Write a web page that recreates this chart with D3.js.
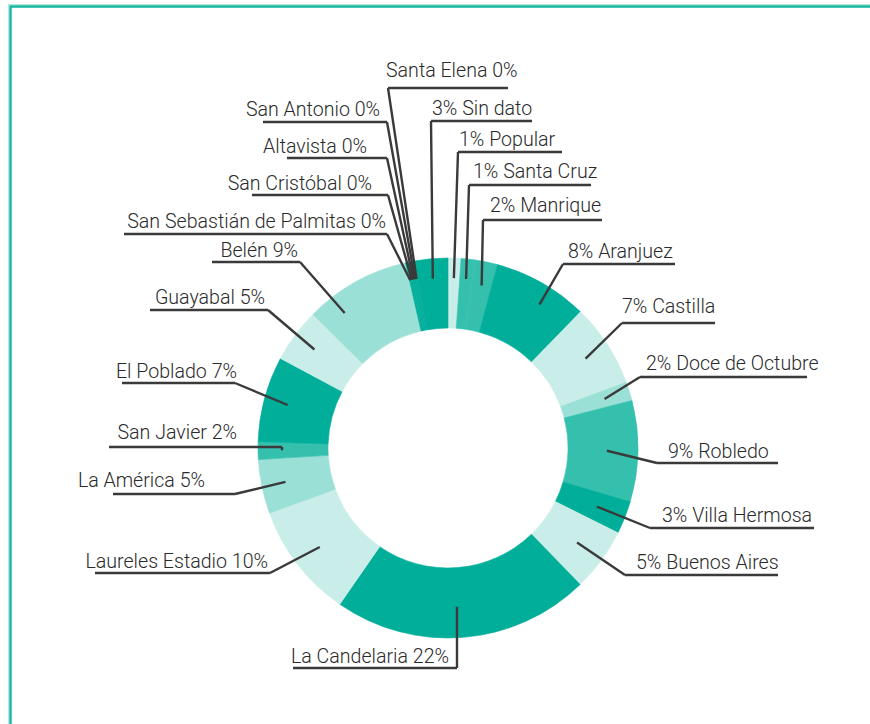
<!DOCTYPE html>
<html><head><meta charset="utf-8">
<script src="https://cdn.jsdelivr.net/npm/d3@7"></script>
<style>html,body{margin:0;padding:0;background:#fff;}svg{display:block;}</style>
</head><body>
<script>
// ---- data ----
const categories = ["Popular","Santa Cruz","Manrique","Aranjuez","Castilla","Doce de Octubre","Robledo","Villa Hermosa","Buenos Aires","La Candelaria","Laureles Estadio","La América","San Javier","El Poblado","Guayabal","Belén","San Sebastián de Palmitas","San Cristóbal","Altavista","San Antonio","Santa Elena","Sin dato"];
const values = [1.1,1.2,1.9,8.1,7.1,1.6,8.6,2.8,5.4,21.9,9.8,4.6,1.5,7.3,4.6,9.0,0.15,0.15,0.15,0.15,0.15,2.85];
// shade index per category (0 light,1 mid-light,2 medium,3 dark)
const shades = [0,2,2,3,0,1,2,3,0,3,0,1,2,3,0,1,3,3,3,3,3,3];

// ---- styles / layout ----
const W = 870, H = 724;
const palette = ["#c9ede8","#9be0d6","#35c0ae","#00ae9a"];
const cx = 448, cy = 448, rOuter = 190, rInner = 120;
// label layout: text x, baseline y, anchor, underline y, underline x-range, corner x (leader bend), leader radius, angle tweak
const labelLayout = {
  "Santa Elena":{tx:386,ty:77,a:"start",uy:88,x1:388,x2:508,c:388,nameFirst:true,r:172},
  "San Antonio":{tx:380,ty:116,a:"end",uy:122,x1:263,x2:387,c:387,nameFirst:true,r:172},
  "Altavista":{tx:367,ty:153,a:"end",uy:158,x1:287,x2:387,c:387,nameFirst:true,r:172},
  "San Cristóbal":{tx:372,ty:190,a:"end",uy:195,x1:252,x2:388,c:388,nameFirst:true,r:172},
  "San Sebastián de Palmitas":{tx:386,ty:228,a:"end",uy:234,x1:124,x2:387,c:387,nameFirst:true,r:172},
  "Belén":{tx:298,ty:257,a:"end",uy:262,x1:212,x2:300,c:300,nameFirst:true,r:170,da:-0.145},
  "Guayabal":{tx:265,ty:304,a:"end",uy:310,x1:150,x2:268,c:268,nameFirst:true,r:166},
  "El Poblado":{tx:237,ty:378,a:"end",uy:383,x1:122,x2:235,c:235,nameFirst:true,r:166},
  "San Javier":{tx:237,ty:439,a:"end",uy:447,x1:109,x2:282,c:282,nameFirst:true,r:166},
  "La América":{tx:205,ty:487,a:"end",uy:494,x1:113,x2:235,c:235,nameFirst:true,r:166},
  "Laureles Estadio":{tx:268,ty:568,a:"end",uy:573,x1:95,x2:270,c:270,nameFirst:true,r:162},
  "La Candelaria":{tx:449,ty:663,a:"end",uy:668,x1:293,x2:457,c:457,nameFirst:true,r:159,da:0.025},
  "Buenos Aires":{tx:636,ty:569,a:"start",uy:575,x1:625,x2:778,c:625,nameFirst:false,r:160},
  "Villa Hermosa":{tx:662,ty:522,a:"start",uy:528,x1:650,x2:814,c:650,nameFirst:false,r:160},
  "Robledo":{tx:668,ty:458,a:"start",uy:463,x1:657,x2:778,c:657,nameFirst:false,r:159},
  "Doce de Octubre":{tx:646,ty:370,a:"start",uy:377,x1:640,x2:807,c:640,nameFirst:false,r:164},
  "Castilla":{tx:622,ty:313,a:"start",uy:323,x1:622,x2:715,c:622,nameFirst:false,r:164},
  "Aranjuez":{tx:568,ty:258,a:"start",uy:264,x1:563,x2:675,c:563,nameFirst:false,r:170,da:0.05},
  "Manrique":{tx:490,ty:212,a:"start",uy:220,x1:483,x2:602,c:483,nameFirst:false,r:166},
  "Santa Cruz":{tx:473,ty:178,a:"start",uy:185,x1:469,x2:591,c:469,nameFirst:false,r:170},
  "Popular":{tx:459,ty:146,a:"start",uy:152,x1:458,x2:562,c:458,nameFirst:false,r:170},
  "Sin dato":{tx:432,ty:115,a:"start",uy:121,x1:431,x2:532,c:431,nameFirst:false,r:170}
};

const data = categories.map((c,i)=>({name:c, value:values[i], shade:shades[i]}));

const svg = d3.select("body").append("svg").attr("width",W).attr("height",H);

// frame
svg.append("path").attr("d",`M8.5,${H} V4.5 H${W}`).attr("fill","none").attr("stroke","#b3e7de").attr("stroke-width",1.2);
svg.append("path").attr("d",`M10.5,${H} V6.5 H${W}`).attr("fill","none").attr("stroke","#14b7a1").attr("stroke-width",2.4);

const pie = d3.pie().value(d=>d.value).sort(null).startAngle(0).endAngle(2*Math.PI);
const arcs = pie(data);
const arc = d3.arc().innerRadius(rInner).outerRadius(rOuter);

const g = svg.append("g").attr("transform",`translate(${cx},${cy})`);
g.selectAll("path.slice").data(arcs).join("path")
  .attr("class","slice")
  .attr("d",arc)
  .attr("fill",d=>palette[d.data.shade])
  .attr("stroke",d=>palette[d.data.shade])
  .attr("stroke-width",0.6);

// labels & leaders
const lab = svg.append("g");
arcs.forEach(d=>{
  const L = labelLayout[d.data.name];
  const mid = (d.startAngle+d.endAngle)/2 + (L.da||0);
  const ex = cx + L.r*Math.sin(mid), ey = cy - L.r*Math.cos(mid);
  const pct = Math.round(d.data.value) + "%";
  const txt = L.nameFirst ? `${d.data.name} ${pct}` : `${pct} ${d.data.name}`;
  lab.append("path")
    .attr("d",`M${L.x1},${L.uy} H${L.x2} M${L.c},${L.uy} L${ex},${ey}`)
    .attr("fill","none").attr("stroke","#3a3a3a").attr("stroke-width",2.4)
    .attr("stroke-linejoin","round");
  lab.append("text").attr("x",L.tx).attr("y",L.ty).attr("text-anchor",L.a)
    .attr("font-family","Roboto, 'Noto Sans', sans-serif").attr("font-size",19.6)
    .attr("font-weight",300)
    .attr("fill","#2a2a2a").text(txt);
});
</script>
</body></html>
